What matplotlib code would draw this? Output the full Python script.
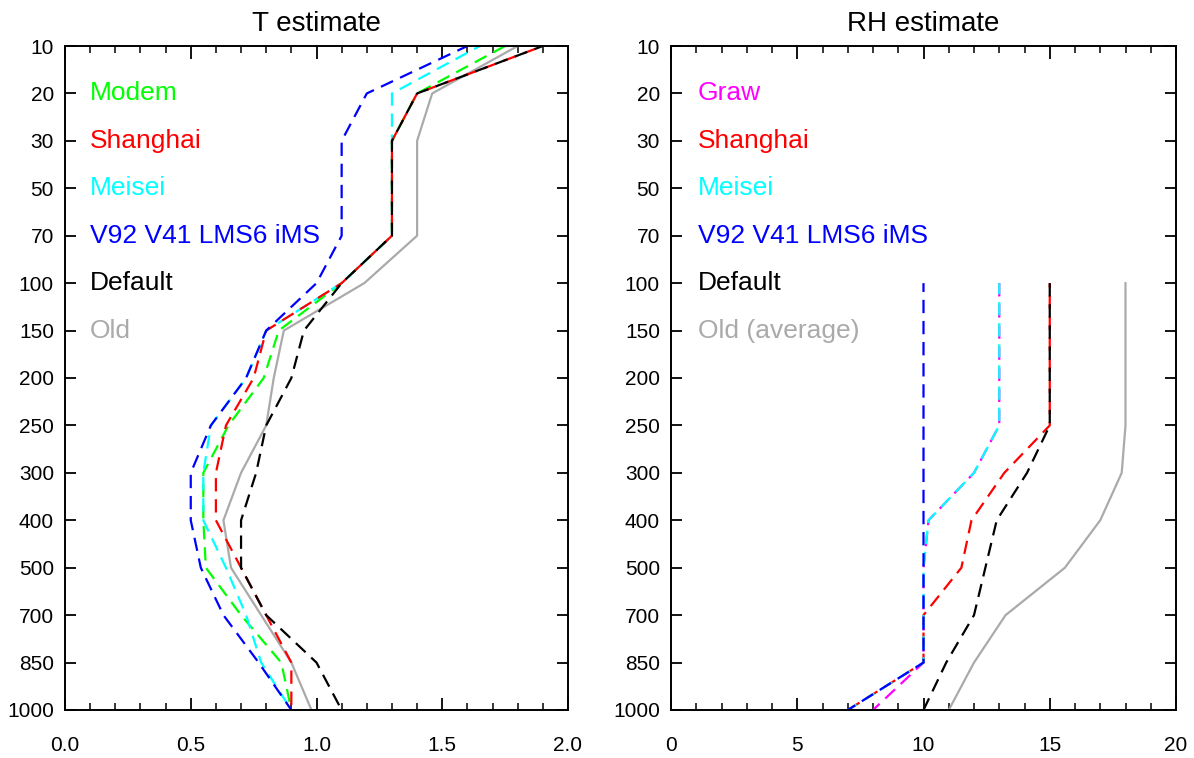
import matplotlib
matplotlib.use('Agg')
import matplotlib.pyplot as plt
from matplotlib.ticker import MultipleLocator
import numpy as np

plt.rcParams['font.family'] = ['Liberation Sans', 'DejaVu Sans']

levels = ['10', '20', '30', '50', '70', '100', '150', '200', '250', '300',
          '400', '500', '700', '850', '1000']

# T estimate (left panel), one value per level from 10 to 1000 hPa
t_modem = [1.75, 1.4, 1.3, 1.3, 1.3, 1.1, 0.85, 0.79, 0.65, 0.55, 0.55, 0.56, 0.70, 0.86, 0.9]
t_shanghai = [1.9, 1.4, 1.3, 1.3, 1.3, 1.1, 0.80, 0.75, 0.64, 0.60, 0.60, 0.70, 0.80, 0.9, 0.9]
t_meisei = [1.65, 1.3, 1.3, 1.3, 1.3, 1.1, 0.80, 0.72, 0.58, 0.55, 0.55, 0.64, 0.72, 0.78, 0.9]
t_vaisala = [1.6, 1.2, 1.1, 1.1, 1.1, 1.0, 0.80, 0.72, 0.58, 0.50, 0.50, 0.54, 0.63, 0.77, 0.9]
t_default = [1.9, 1.4, 1.3, 1.3, 1.3, 1.1, 0.95, 0.90, 0.80, 0.76, 0.70, 0.70, 0.80, 1.0, 1.1]
t_old = [1.8, 1.46, 1.4, 1.4, 1.4, 1.19, 0.87, 0.83, 0.80, 0.70, 0.63, 0.66, 0.78, 0.9, 0.98]

# RH estimate (right panel), levels 100 to 1000 hPa
rh_levels = levels[5:]
rh_graw = [13, 13, 13, 13, 12, 10.2, 10, 10, 10, 8]
rh_shanghai = [15, 15, 15, 15, 13.2, 11.9, 11.5, 10, 10, 7]
rh_meisei = [13, 13, 13, 13, 12, 10.2, 10, 10, 10, 7]
rh_vaisala = [10, 10, 10, 10, 10, 10, 10, 10, 10, 7]
rh_default = [15, 15, 15, 15, 14.1, 12.9, 12.45, 12.0, 10.9, 10.0]
rh_old = [18, 18, 18, 18, 17.85, 17.0, 15.6, 13.25, 12.0, 11.0]

GREEN = '#00ff00'
RED = '#ff0000'
CYAN = '#00ffff'
BLUE = '#0000ff'
MAGENTA = '#ff00ff'
GRAY = '#aaaaaa'

fig = plt.figure(figsize=(11.94, 7.58), dpi=100)
W, H = 1194., 758.
ax1 = fig.add_axes([65/W, 48/H, 503/W, 664/H])
ax2 = fig.add_axes([671/W, 48/H, 505/W, 664/H])

ypos = np.arange(len(levels))
ypos_rh = ypos[5:]


def dash(off):
    return (off, (6, 3.5))


def style(ax, xmax, major, minor):
    ax.set_xlim(0, xmax)
    ax.set_ylim(len(levels) - 1, 0)
    ax.set_yticks(ypos)
    ax.set_yticklabels(levels)
    ax.xaxis.set_major_locator(MultipleLocator(major))
    ax.xaxis.set_minor_locator(MultipleLocator(minor))
    ax.tick_params(axis='x', which='major', direction='in', top=True, bottom=True,
                   length=9, width=1.3, labelsize=15, pad=19)
    ax.tick_params(axis='x', which='minor', direction='in', top=True, bottom=True,
                   length=5, width=1.1)
    ax.tick_params(axis='y', which='major', direction='in', left=True, right=True,
                   length=8, width=1.3, labelsize=15, pad=8)
    for s in ax.spines.values():
        s.set_linewidth(1.4)


lw = 1.6
ax1.plot(t_old, ypos, color=GRAY, lw=lw)
ax1.plot(t_modem, ypos, color=GREEN, lw=lw, linestyle=dash(0))
ax1.plot(t_meisei, ypos, color=CYAN, lw=lw, linestyle=dash(3))
ax1.plot(t_shanghai, ypos, color=RED, lw=lw, linestyle=dash(6))
ax1.plot(t_vaisala, ypos, color=BLUE, lw=lw, linestyle=dash(1))
ax1.plot(t_default, ypos, color='black', lw=lw, linestyle=dash(2))
style(ax1, 2.0, 0.5, 0.1)
ax1.set_xticks([0.0, 0.5, 1.0, 1.5, 2.0])
ax1.set_xticklabels(['0.0', '0.5', '1.0', '1.5', '2.0'])
ax1.set_title('T estimate', fontsize=20, pad=11)

labels_t = [('Modem', GREEN), ('Shanghai', RED), ('Meisei', CYAN),
            ('V92 V41 LMS6 iMS', BLUE), ('Default', 'black'), ('Old', GRAY)]
for i, (txt, c) in enumerate(labels_t):
    ax1.text(0.1, ypos[i + 1], txt, color=c, fontsize=19, va='center', ha='left')

ax2.plot(rh_old, ypos_rh, color=GRAY, lw=lw)
ax2.plot(rh_graw, ypos_rh, color=MAGENTA, lw=lw, linestyle=dash(0))
ax2.plot(rh_shanghai, ypos_rh, color=RED, lw=lw, linestyle=dash(4))
ax2.plot(rh_meisei, ypos_rh, color=CYAN, lw=lw, linestyle=dash(1))
ax2.plot(rh_vaisala, ypos_rh, color=BLUE, lw=lw, linestyle=dash(2))
ax2.plot(rh_default, ypos_rh, color='black', lw=lw, linestyle=dash(0))
style(ax2, 20, 5, 1)
ax2.set_title('RH estimate', fontsize=20, pad=11)

labels_rh = [('Graw', MAGENTA), ('Shanghai', RED), ('Meisei', CYAN),
             ('V92 V41 LMS6 iMS', BLUE), ('Default', 'black'), ('Old (average)', GRAY)]
for i, (txt, c) in enumerate(labels_rh):
    ax2.text(1.05, ypos[i + 1], txt, color=c, fontsize=19, va='center', ha='left')

plt.savefig('out.png', dpi=100)
